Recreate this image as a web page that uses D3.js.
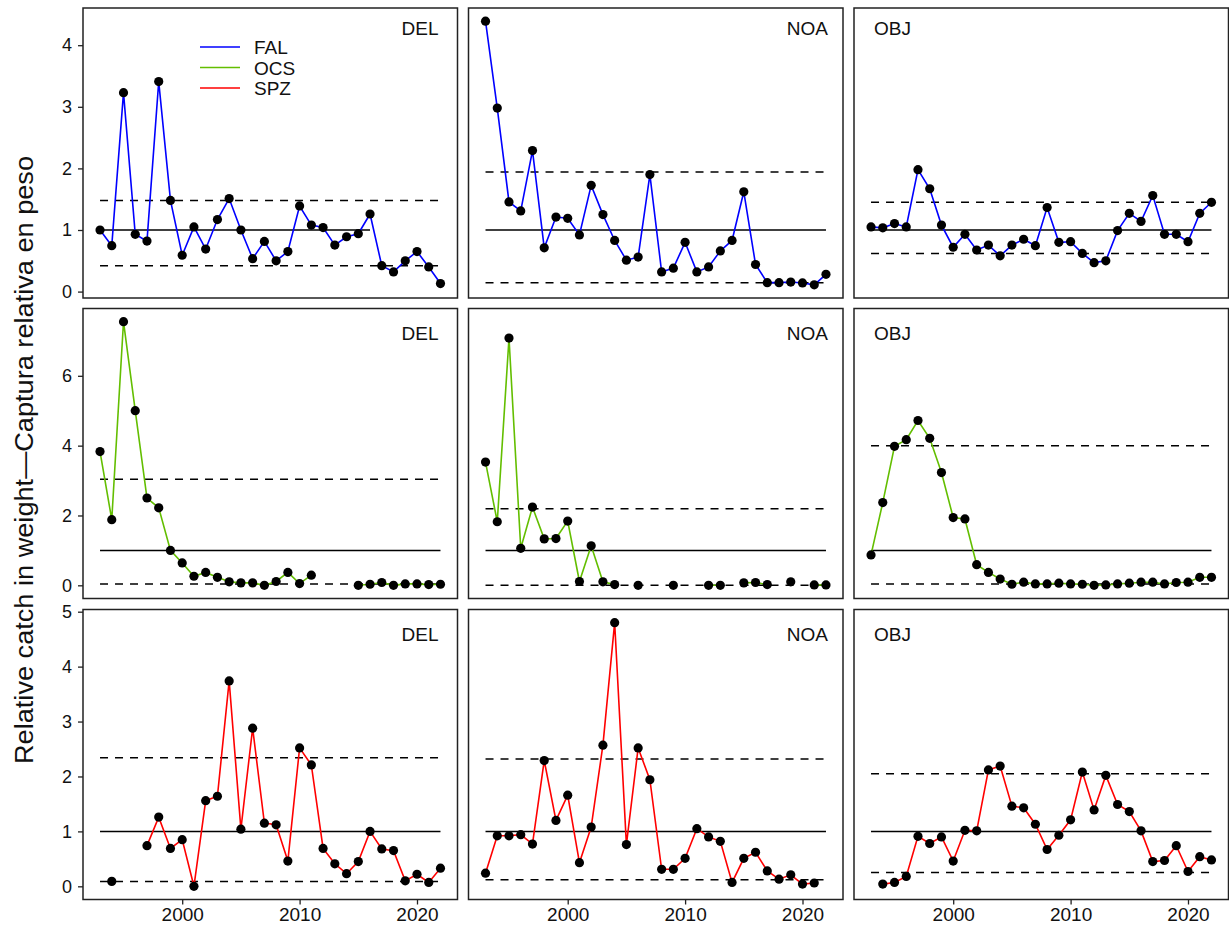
<!DOCTYPE html>
<html>
<head>
<meta charset="utf-8">
<script src="https://cdn.jsdelivr.net/npm/d3@7"></script>
<style>
  html, body { margin: 0; padding: 0; background: #fff; }
  svg { display: block; font-family: "Liberation Sans", Arial, sans-serif; }
</style>
</head>
<body>
<svg id="chart" width="1229" height="926"></svg>
<script>
// ---------------- DATA ----------------
const years = [1993,1994,1995,1996,1997,1998,1999,2000,2001,2002,2003,2004,2005,2006,2007,
               2008,2009,2010,2011,2012,2013,2014,2015,2016,2017,2018,2019,2020,2021,2022];
const fleets = ["DEL", "NOA", "OBJ"];
const species = ["FAL", "OCS", "SPZ"];
const speciesColors = ["#0000FF", "#63BE00", "#FF0000"];

const FAL_DEL = [1.00,0.745,3.23,0.93,0.82,3.41,1.48,0.59,1.05,0.69,1.17,1.51,1.00,0.535,0.815,0.50,0.65,1.39,1.08,1.04,0.755,0.89,0.94,1.26,0.42,0.32,0.50,0.65,0.40,0.13];
const FAL_NOA = [4.39,2.98,1.455,1.31,2.29,0.71,1.21,1.19,0.92,1.725,1.25,0.83,0.51,0.56,1.90,0.32,0.38,0.80,0.32,0.40,0.66,0.83,1.62,0.44,0.145,0.145,0.155,0.14,0.11,0.28];
const FAL_OBJ = [1.05,1.035,1.105,1.05,1.98,1.67,1.08,0.72,0.93,0.675,0.755,0.58,0.755,0.85,0.745,1.365,0.80,0.81,0.62,0.47,0.50,0.99,1.27,1.14,1.56,0.93,0.93,0.81,1.27,1.45];

const OCS_DEL = [3.83,1.88,7.55,5.00,2.50,2.22,1.00,0.64,0.26,0.37,0.23,0.10,0.07,0.07,0.00,0.11,0.37,0.05,0.29,null,null,null,0.00,0.03,0.08,0.00,0.04,0.04,0.02,0.03];
const OCS_NOA = [3.53,1.82,7.08,1.06,2.24,1.33,1.34,1.84,0.11,1.13,0.10,0.02,null,0.00,null,null,0.00,null,null,0.00,0.00,null,0.07,0.08,0.02,null,0.10,null,0.01,0.01];
const OCS_OBJ = [0.87,2.37,3.98,4.17,4.72,4.21,3.23,1.94,1.90,0.59,0.37,0.18,0.03,0.09,0.04,0.04,0.06,0.04,0.03,0.00,0.01,0.04,0.06,0.09,0.09,0.04,0.08,0.09,0.23,0.23];

const SPZ_DEL = [null,0.09,null,null,0.74,1.26,0.69,0.85,0.00,1.56,1.64,3.74,1.04,2.88,1.15,1.12,0.46,2.52,2.21,0.69,0.41,0.23,0.45,1.00,0.68,0.65,0.10,0.22,0.07,0.33];
const SPZ_NOA = [0.24,0.92,0.92,0.94,0.77,2.29,1.20,1.66,0.43,1.08,2.57,4.80,0.76,2.52,1.94,0.31,0.31,0.51,1.05,0.90,0.82,0.07,0.51,0.62,0.28,0.13,0.21,0.04,0.06,null];
const SPZ_OBJ = [null,0.04,0.07,0.18,0.91,0.78,0.90,0.46,1.02,1.01,2.12,2.19,1.46,1.43,1.13,0.67,0.93,1.21,2.08,1.39,2.02,1.49,1.36,1.01,0.45,0.47,0.74,0.27,0.54,0.48];

// reference lines: [mean, lower, upper, last year of mean line]
const REF_FAL = [[1, 0.42, 1.48, 2016], [1, 0.145, 1.94, 2022], [1, 0.62, 1.45, 2022]];
const REF_OCS = [[1, 0.04, 3.04, 2022], [1, 0.00, 2.19, 2022], [1, 0.04, 4.00, 2022]];
const REF_SPZ = [[1, 0.09, 2.34, 2022], [1, 0.12, 2.32, 2022], [1, 0.25, 2.05, 2022]];

const yTicksRows = [[0,1,2,3,4], [0,2,4,6], [0,1,2,3,4,5]];
const xTicks = [2000, 2010, 2020];
const yTitle = "Relative catch in weight\u2014Captura relativa en peso";

// ---------------- LAYOUT ----------------
const series = [[FAL_DEL, FAL_NOA, FAL_OBJ], [OCS_DEL, OCS_NOA, OCS_OBJ], [SPZ_DEL, SPZ_NOA, SPZ_OBJ]];
const refs = [REF_FAL, REF_OCS, REF_SPZ];
const PW = 374.5, PH = 290;
const colX = [83, 468.5, 854];
const rowY = [8, 308.5, 609.5];
const labelDy = [27, 31, 31];

const svg = d3.select("#chart");

const yearExt = d3.extent(years);
const xPad = (yearExt[1] - yearExt[0]) * 0.05;
const x = d3.scaleLinear().domain([yearExt[0] - xPad, yearExt[1] + xPad]).range([0, PW]);

species.forEach((sp, r) => {
  // row-shared y scale (free_y by row)
  const vals = [];
  series[r].forEach(s => s.forEach(v => { if (v != null) vals.push(v); }));
  refs[r].forEach(rf => vals.push(rf[0], rf[1], rf[2]));
  const ext = d3.extent(vals);
  const yPad = (ext[1] - ext[0]) * 0.05;
  const y = d3.scaleLinear().domain([ext[0] - yPad, ext[1] + yPad]).range([PH, 0]);

  fleets.forEach((fl, c) => {
    const g = svg.append("g").attr("transform", `translate(${colX[c]},${rowY[r]})`);
    const data = years.map((yr, i) => ({ yr, v: series[r][c][i] }));
    const rf = refs[r][c];

    // reference lines
    g.append("line")
      .attr("x1", x(yearExt[0])).attr("x2", x(rf[3]))
      .attr("y1", y(rf[0])).attr("y2", y(rf[0]))
      .attr("stroke", "#000").attr("stroke-width", 1.5);
    [rf[1], rf[2]].forEach(v => {
      g.append("line")
        .attr("x1", x(yearExt[0])).attr("x2", x(yearExt[1]))
        .attr("y1", y(v)).attr("y2", y(v))
        .attr("stroke", "#000").attr("stroke-width", 1.5)
        .attr("stroke-dasharray", "8,7");
    });

    // series line
    const line = d3.line().defined(d => d.v != null).x(d => x(d.yr)).y(d => y(d.v));
    g.append("path").datum(data)
      .attr("d", line).attr("fill", "none")
      .attr("stroke", speciesColors[r]).attr("stroke-width", 1.6);

    // points
    g.selectAll("circle").data(data.filter(d => d.v != null)).join("circle")
      .attr("cx", d => x(d.yr)).attr("cy", d => y(d.v)).attr("r", 4.6)
      .attr("fill", "#000");

    // panel border
    g.append("rect").attr("x", 0).attr("y", 0).attr("width", PW).attr("height", PH)
      .attr("fill", "none").attr("stroke", "#222").attr("stroke-width", 1.5);

    // panel label
    const lab = g.append("text").text(fl).attr("font-size", 19).attr("fill", "#111")
      .attr("y", labelDy[r]);
    if (fl === "OBJ") lab.attr("x", 20).attr("text-anchor", "start");
    else lab.attr("x", PW - (fl === "DEL" ? 19 : 15)).attr("text-anchor", "end");

    // y axis (left column)
    if (c === 0) {
      const ax = g.append("g").call(d3.axisLeft(y).tickValues(yTicksRows[r]).tickSize(5).tickPadding(6).tickFormat(d3.format("d")));
      ax.select(".domain").remove();
      ax.selectAll("line").attr("stroke", "#222").attr("stroke-width", 1.3);
      ax.selectAll("text").attr("font-size", 18).attr("fill", "#111").style("font-family", "Liberation Sans, Arial, sans-serif");
    }
    // x axis (bottom row)
    if (r === 2) {
      const ax = g.append("g").attr("transform", `translate(0,${PH})`)
        .call(d3.axisBottom(x).tickValues(xTicks).tickSize(5).tickPadding(3).tickFormat(d3.format("d")));
      ax.select(".domain").remove();
      ax.selectAll("line").attr("stroke", "#222").attr("stroke-width", 1.3);
      ax.selectAll("text").attr("font-size", 19).attr("fill", "#111").style("font-family", "Liberation Sans, Arial, sans-serif");
    }

    // legend in first panel
    if (r === 0 && c === 0) {
      const lg = g.append("g");
      species.forEach((s, i) => {
        const ly = 39 + i * 20.5;
        lg.append("line").attr("x1", 117).attr("x2", 157).attr("y1", ly).attr("y2", ly)
          .attr("stroke", speciesColors[i]).attr("stroke-width", 1.5);
        lg.append("text").attr("x", 171).attr("y", ly + 7).text(s)
          .attr("font-size", 19).attr("fill", "#111");
      });
    }
  });
});

// y axis title
svg.append("text")
  .attr("transform", `translate(33,460) rotate(-90)`)
  .attr("text-anchor", "middle")
  .attr("font-size", 25).attr("fill", "#111")
  .attr("textLength", 608).attr("lengthAdjust", "spacingAndGlyphs")
  .text(yTitle);
</script>
</body>
</html>
